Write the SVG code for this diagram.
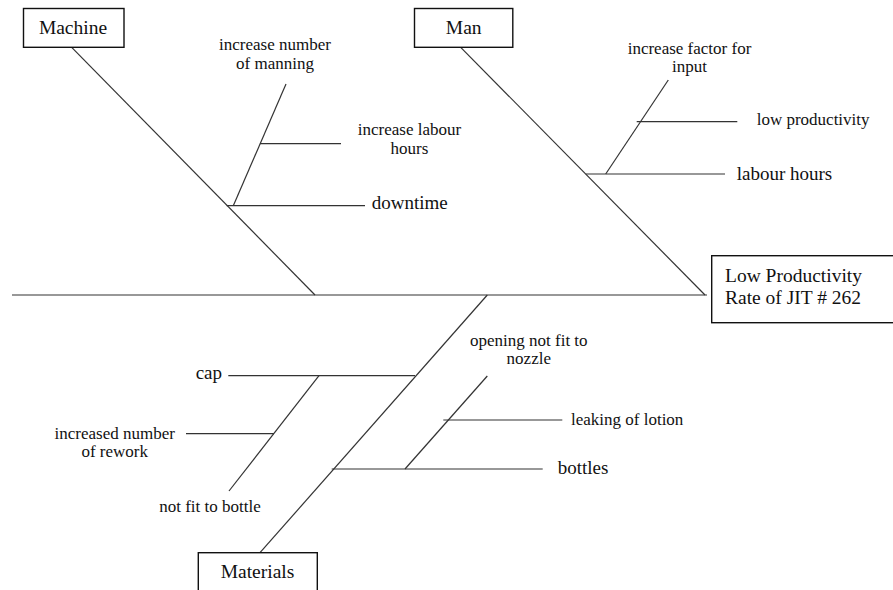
<svg xmlns="http://www.w3.org/2000/svg" width="893" height="590" viewBox="0 0 893 590">
<defs>
<rect id="dummy" width="0" height="0"/>
</defs>
<rect width="893" height="590" fill="#fff"/>
<g id="connectors" stroke="#333" stroke-width="1.2" fill="none">
<line x1="12" y1="295" x2="707" y2="295"/>
<line x1="71.7" y1="47.3" x2="315" y2="295"/>
<line x1="460.7" y1="47.3" x2="705" y2="295"/>
<line x1="260" y1="552.7" x2="487.3" y2="295"/>
<line x1="226.7" y1="205.7" x2="365" y2="205.7"/>
<line x1="233.3" y1="205.7" x2="286" y2="84"/>
<line x1="260" y1="143.7" x2="341" y2="143.7"/>
<line x1="585.7" y1="174" x2="725" y2="174"/>
<line x1="605.7" y1="174" x2="668.3" y2="80"/>
<line x1="636.7" y1="121.7" x2="737.3" y2="121.7"/>
<line x1="228.3" y1="375.7" x2="415" y2="375.7"/>
<line x1="319" y1="375.7" x2="229" y2="491"/>
<line x1="186" y1="433.7" x2="274" y2="433.7"/>
<line x1="331.7" y1="469" x2="542.7" y2="469"/>
<line x1="405" y1="469" x2="487.3" y2="376"/>
<line x1="443.3" y1="420" x2="562.3" y2="420"/>
</g>
<g id="machine">
<rect x="23.5" y="8.5" width="100.5" height="38.8" fill="#fff" stroke="#111" stroke-width="1.4"/>
<text font-family="Liberation Serif" font-size="19.5" text-anchor="middle" fill="#111" x="73" y="34">Machine</text>
</g>
<g id="man">
<rect x="414.5" y="8.5" width="98.3" height="38.8" fill="#fff" stroke="#111" stroke-width="1.4"/>
<text font-family="Liberation Serif" font-size="19.5" text-anchor="middle" fill="#111" x="463.7" y="34">Man</text>
</g>
<g id="effect">
<rect x="711.7" y="255.7" width="200" height="67" fill="#fff" stroke="#111" stroke-width="1.4"/>
<text font-family="Liberation Serif" font-size="19.5" fill="#111" x="725" y="282">Low Productivity</text>
<text font-family="Liberation Serif" font-size="19.5" fill="#111" x="725" y="303.5">Rate of JIT # 262</text>
</g>
<g id="materials">
<rect x="198.3" y="552.7" width="119" height="50" fill="#fff" stroke="#111" stroke-width="1.4"/>
<text font-family="Liberation Serif" font-size="19.5" text-anchor="middle" fill="#111" x="257.5" y="577.5">Materials</text>
</g>
<g id="machine-causes">
<text font-family="Liberation Serif" font-size="17" text-anchor="middle" fill="#111" x="275" y="50">increase number</text>
<text font-family="Liberation Serif" font-size="17" text-anchor="middle" fill="#111" x="275" y="68.5">of manning</text>
<text font-family="Liberation Serif" font-size="17" text-anchor="middle" fill="#111" x="409.5" y="135">increase labour</text>
<text font-family="Liberation Serif" font-size="17" text-anchor="middle" fill="#111" x="409.5" y="153.5">hours</text>
<text font-family="Liberation Serif" font-size="19" fill="#111" x="371.7" y="208.5">downtime</text>
</g>
<g id="man-causes">
<text font-family="Liberation Serif" font-size="17" text-anchor="middle" fill="#111" x="689.5" y="53.5">increase factor for</text>
<text font-family="Liberation Serif" font-size="17" text-anchor="middle" fill="#111" x="689.5" y="72">input</text>
<text font-family="Liberation Serif" font-size="17" fill="#111" x="756.7" y="124.5">low productivity</text>
<text font-family="Liberation Serif" font-size="19" fill="#111" x="736.7" y="179.5">labour hours</text>
</g>
<g id="materials-causes">
<text font-family="Liberation Serif" font-size="19" text-anchor="end" fill="#111" x="222" y="378.5">cap</text>
<text font-family="Liberation Serif" font-size="17" text-anchor="middle" fill="#111" x="114.7" y="438.5">increased number</text>
<text font-family="Liberation Serif" font-size="17" text-anchor="middle" fill="#111" x="114.7" y="457">of rework</text>
<text font-family="Liberation Serif" font-size="17" text-anchor="middle" fill="#111" x="210" y="512">not fit to bottle</text>
<text font-family="Liberation Serif" font-size="17" text-anchor="middle" fill="#111" x="528.8" y="345.5">opening not fit to</text>
<text font-family="Liberation Serif" font-size="17" text-anchor="middle" fill="#111" x="528.8" y="364">nozzle</text>
<text font-family="Liberation Serif" font-size="17" fill="#111" x="571" y="424.5">leaking of lotion</text>
<text font-family="Liberation Serif" font-size="19" fill="#111" x="557.7" y="474">bottles</text>
</g>
</svg>
